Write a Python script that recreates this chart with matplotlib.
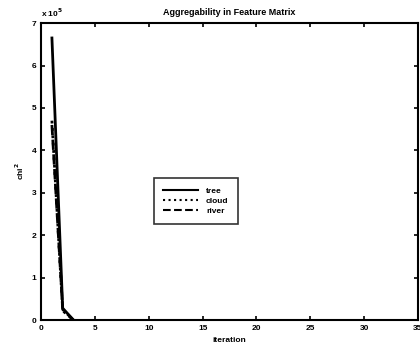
import matplotlib
matplotlib.use("Agg")
import matplotlib.pyplot as plt

# data (values in units of 1e5)
iterations = [1, 2, 3]
tree = [6.65, 0.28, 0.0]
cloud = [4.7, 0.22, 0.0]
river = [4.6, 0.25, 0.0]

x_ticks = [0, 5, 10, 15, 20, 25, 30, 35]
y_ticks = [0, 1, 2, 3, 4, 5, 6, 7]

plt.rcParams["font.family"] = ["Liberation Sans", "DejaVu Sans"]
plt.rcParams["font.weight"] = "bold"

fig = plt.figure(figsize=(4.2, 3.56), dpi=100)
ax = fig.add_axes([0.098, 0.101, 0.897, 0.834])

ax.plot(iterations, tree, color="black", linestyle="-", linewidth=2.0, label="tree")
ax.plot(iterations, cloud, color="black", linestyle=":", linewidth=2.0, label="cloud")
ax.plot(iterations, river, color="black", linestyle="--", linewidth=2.0, label="river")

ax.set_xlim(0, 35)
ax.set_ylim(0, 7)
ax.set_xticks(x_ticks)
ax.set_yticks(y_ticks)
ax.tick_params(direction="in", labelsize=6, width=1.2, length=3, top=True, right=True)
for sp in ax.spines.values():
    sp.set_linewidth(1.5)

ax.set_title("Aggregability in Feature Matrix", fontsize=6.5, fontweight="bold", pad=6)
ax.set_xlabel("iteration", fontsize=6, fontweight="bold")
ax.set_ylabel("chi$^2$", fontsize=6, fontweight="bold")
ax.text(0.0, 1.015, r"x 10$^5$", transform=ax.transAxes, fontsize=6,
        fontweight="bold", ha="left", va="bottom")

leg = ax.legend(loc="center", bbox_to_anchor=(0.41, 0.40), fontsize=6,
                frameon=True, fancybox=False, handlelength=4.2,
                handletextpad=1.0, borderpad=1.1, borderaxespad=0,
                labelspacing=0.25)
leg.get_frame().set_edgecolor("black")
leg.get_frame().set_linewidth(1.2)
for line in leg.get_lines():
    line.set_linewidth(1.5)

fig.savefig("out.png", dpi=100)
